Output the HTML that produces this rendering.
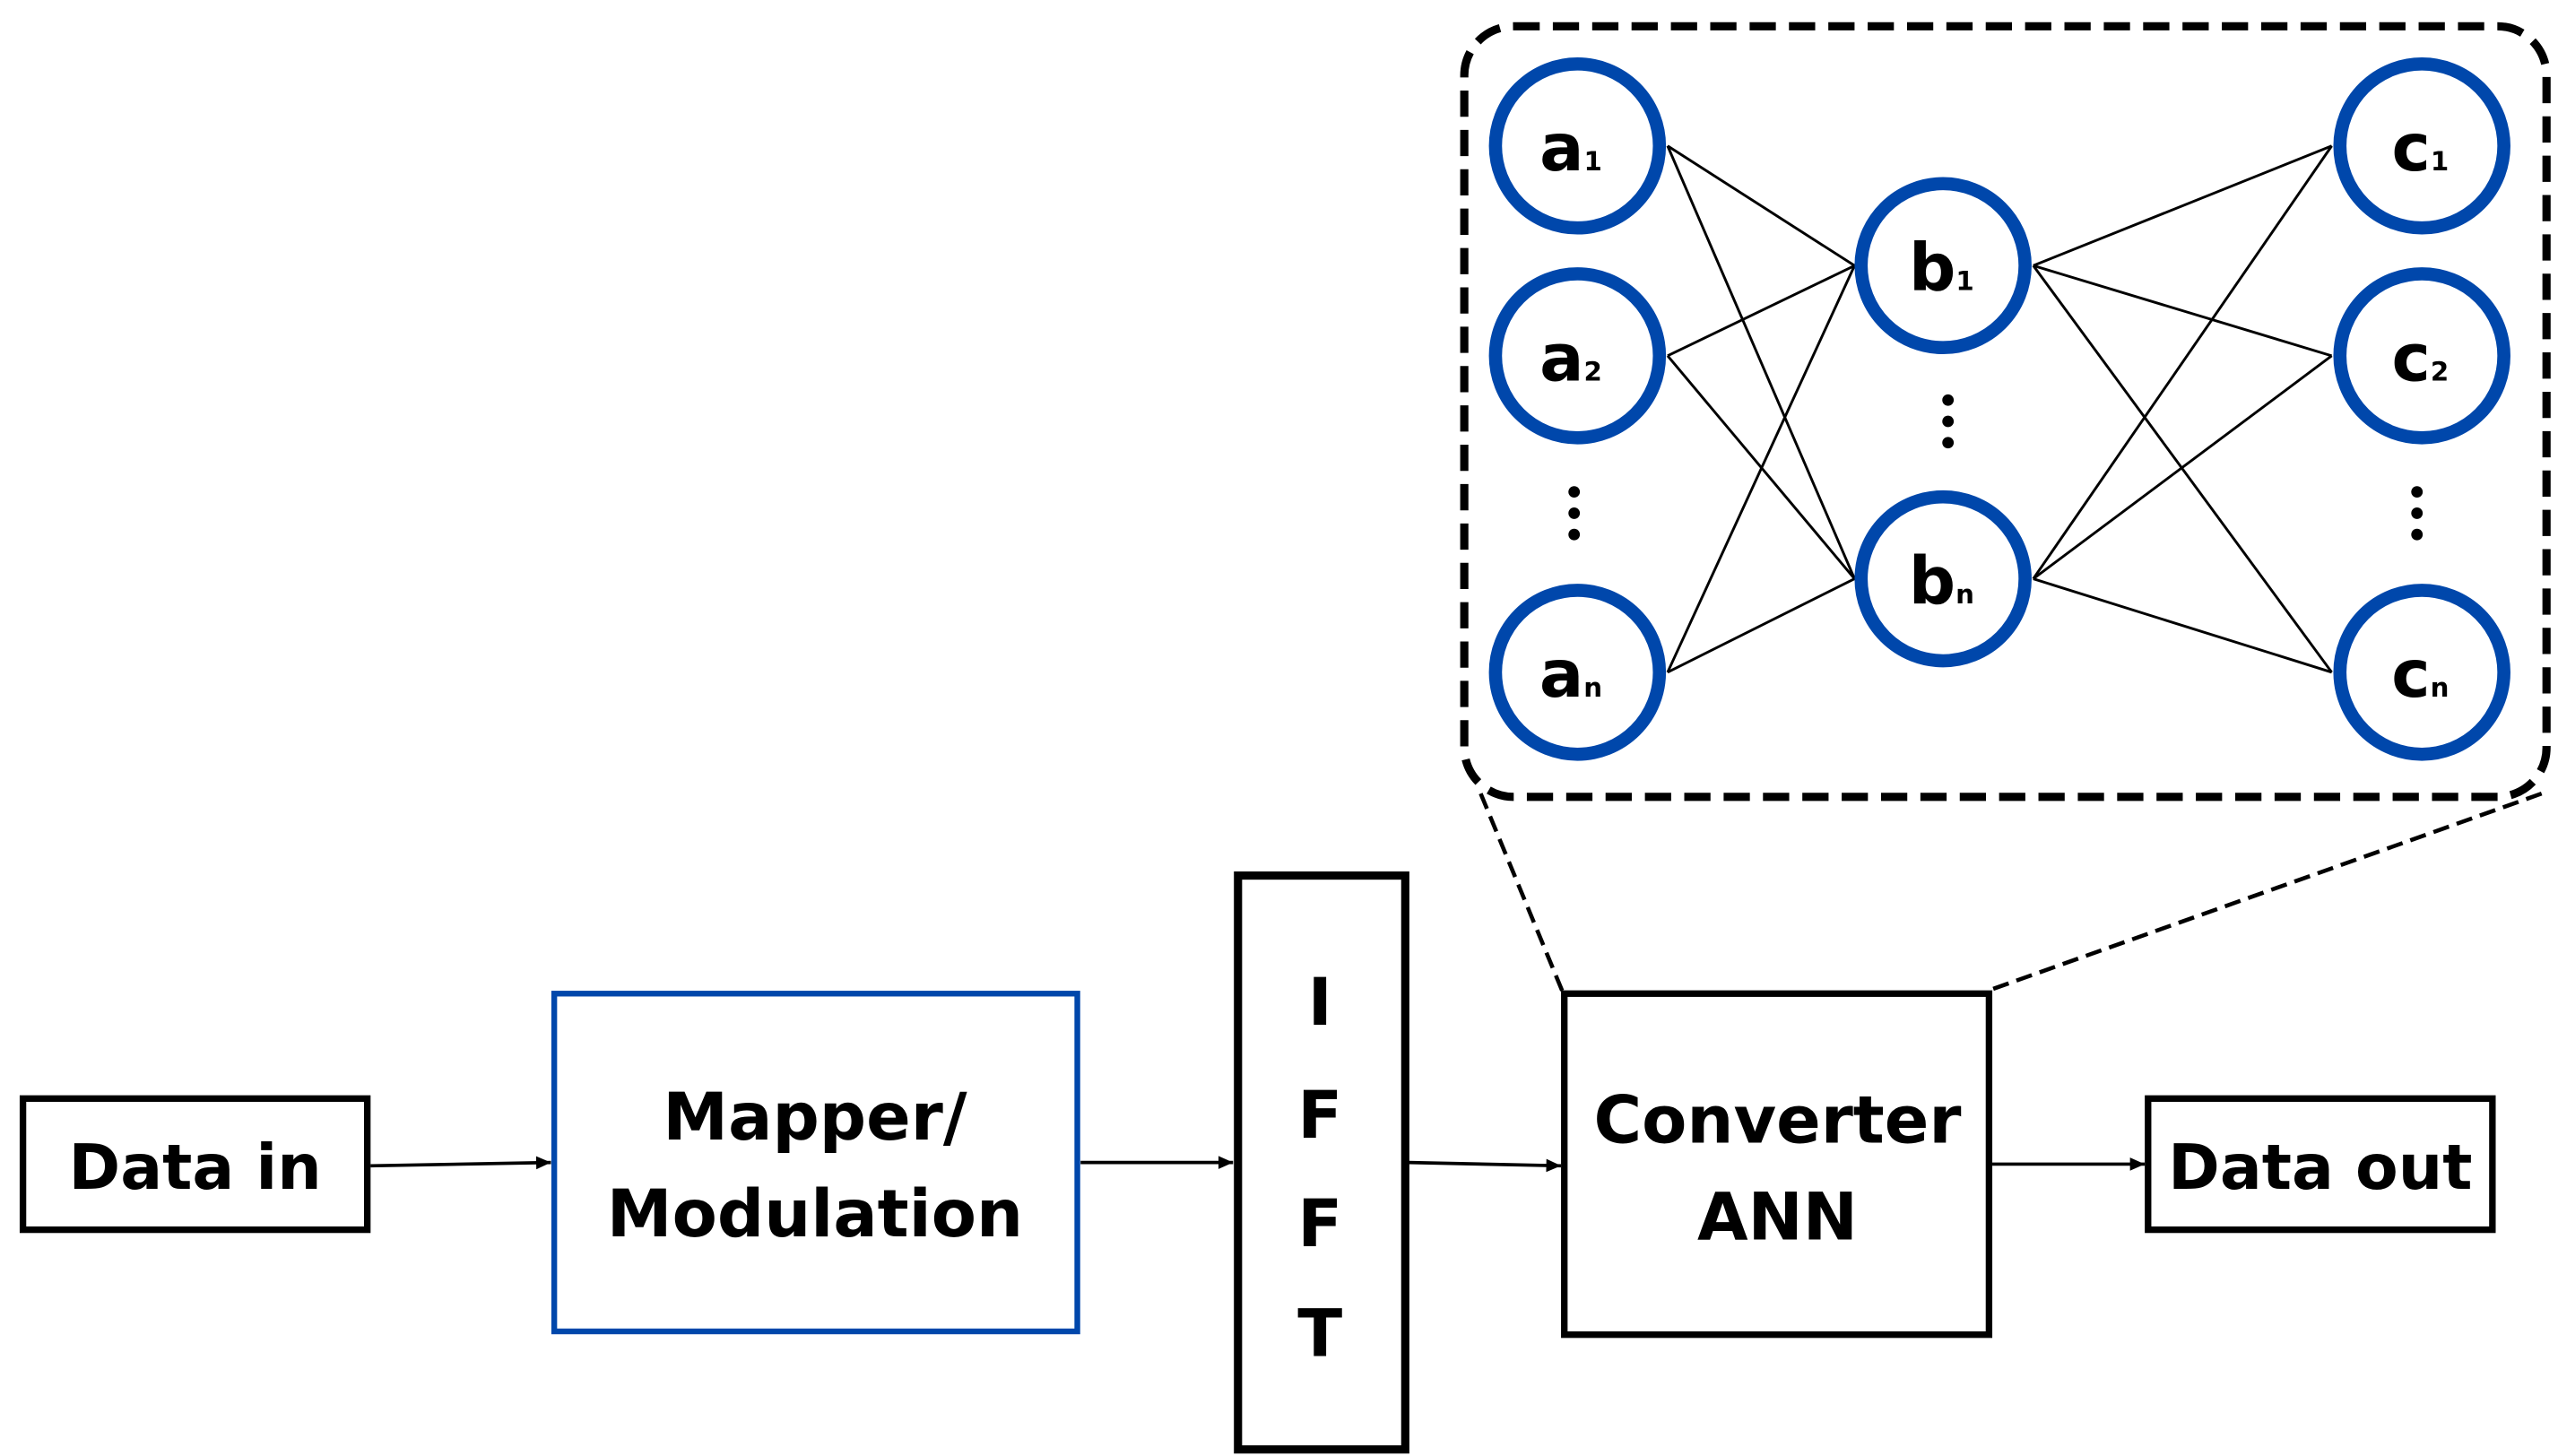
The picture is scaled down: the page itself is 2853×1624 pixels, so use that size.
<!DOCTYPE html>
<html><head><style>
html,body{margin:0;padding:0;background:#fff;}
svg{display:block;}
text{font-family:"DejaVu Sans","Liberation Sans",sans-serif;font-weight:bold;fill:#000;}
</style></head><body>
<svg width="2853" height="1624" viewBox="0 0 1560 888" preserveAspectRatio="none" xmlns="http://www.w3.org/2000/svg">
<defs>
<marker id="ar" markerWidth="10" markerHeight="10" refX="9" refY="5" orient="auto" markerUnits="userSpaceOnUse">
<path d="M0,1 L9,5 L0,9 Z" fill="#000"/>
</marker>
</defs>
<!-- dashed container -->
<rect x="893" y="16" width="660" height="470" rx="30" fill="none" stroke="#000" stroke-width="5" stroke-dasharray="16,8"/>
<line x1="903" y1="484" x2="953" y2="605" stroke="#000" stroke-width="2.5" stroke-dasharray="10,5"/>
<line x1="1550" y1="484" x2="1213" y2="604" stroke="#000" stroke-width="2.5" stroke-dasharray="10,5"/>
<!-- connections -->
<g stroke="#000" stroke-width="1.6">
<line x1="1017" y1="89" x2="1131" y2="162"/><line x1="1017" y1="89" x2="1131" y2="353"/>
<line x1="1017" y1="217" x2="1131" y2="162"/><line x1="1017" y1="217" x2="1131" y2="353"/>
<line x1="1017" y1="410" x2="1131" y2="162"/><line x1="1017" y1="410" x2="1131" y2="353"/>
<line x1="1240" y1="162" x2="1422" y2="89"/><line x1="1240" y1="162" x2="1422" y2="217"/><line x1="1240" y1="162" x2="1422" y2="410"/>
<line x1="1240" y1="353" x2="1422" y2="89"/><line x1="1240" y1="353" x2="1422" y2="217"/><line x1="1240" y1="353" x2="1422" y2="410"/>
</g>
<g fill="#fff" stroke="#0047AB" stroke-width="8">
<circle cx="962" cy="89" r="50"/><circle cx="962" cy="217" r="50"/><circle cx="962" cy="410" r="50"/>
<circle cx="1185" cy="162" r="50"/><circle cx="1185" cy="353" r="50"/>
<circle cx="1477" cy="89" r="50"/><circle cx="1477" cy="217" r="50"/><circle cx="1477" cy="410" r="50"/>
</g>
<g font-size="40" text-anchor="middle">
<text x="958" y="104">a<tspan font-size="16">1</tspan></text>
<text x="958" y="232">a<tspan font-size="16">2</tspan></text>
<text x="958" y="425">a<tspan font-size="16">n</tspan></text>
<text x="1184" y="177">b<tspan font-size="16">1</tspan></text>
<text x="1184" y="368">b<tspan font-size="16">n</tspan></text>
<text x="1476" y="104">c<tspan font-size="16">1</tspan></text>
<text x="1476" y="232">c<tspan font-size="16">2</tspan></text>
<text x="1476" y="425">c<tspan font-size="16">n</tspan></text>
</g>
<g fill="#000">
<circle cx="960" cy="300" r="3.5"/><circle cx="960" cy="313" r="3.5"/><circle cx="960" cy="326" r="3.5"/>
<circle cx="1188" cy="244" r="3.5"/><circle cx="1188" cy="257" r="3.5"/><circle cx="1188" cy="270" r="3.5"/>
<circle cx="1474" cy="300" r="3.5"/><circle cx="1474" cy="313" r="3.5"/><circle cx="1474" cy="326" r="3.5"/>
</g>
<!-- blocks -->
<rect x="14" y="670" width="210" height="80" fill="none" stroke="#000" stroke-width="4"/>
<text x="119" y="725" font-size="38" text-anchor="middle">Data in</text>
<rect x="338" y="606" width="319" height="206" fill="none" stroke="#0047AB" stroke-width="3.5"/>
<text x="497" y="695" font-size="40" text-anchor="middle">Mapper/</text>
<text x="497" y="754" font-size="40" text-anchor="middle">Modulation</text>
<rect x="755" y="534" width="102" height="350" fill="none" stroke="#000" stroke-width="5"/>
<g font-size="40" text-anchor="middle">
<text x="805" y="625">I</text><text x="805" y="694">F</text><text x="805" y="760">F</text><text x="805" y="827">T</text>
</g>
<rect x="954" y="606" width="259" height="208" fill="none" stroke="#000" stroke-width="4"/>
<text x="1084" y="697" font-size="40" text-anchor="middle">Converter</text>
<text x="1084" y="756" font-size="40" text-anchor="middle">ANN</text>
<rect x="1310" y="670" width="210" height="80" fill="none" stroke="#000" stroke-width="4"/>
<text x="1415" y="725" font-size="38" text-anchor="middle">Data out</text>
<!-- arrows -->
<g stroke="#000" stroke-width="2" marker-end="url(#ar)">
<line x1="226" y1="711" x2="336" y2="709"/>
<line x1="659" y1="709" x2="752" y2="709"/>
<line x1="859" y1="709" x2="952" y2="711"/>
<line x1="1215" y1="710" x2="1308" y2="710"/>
</g>
</svg>
</body></html>
